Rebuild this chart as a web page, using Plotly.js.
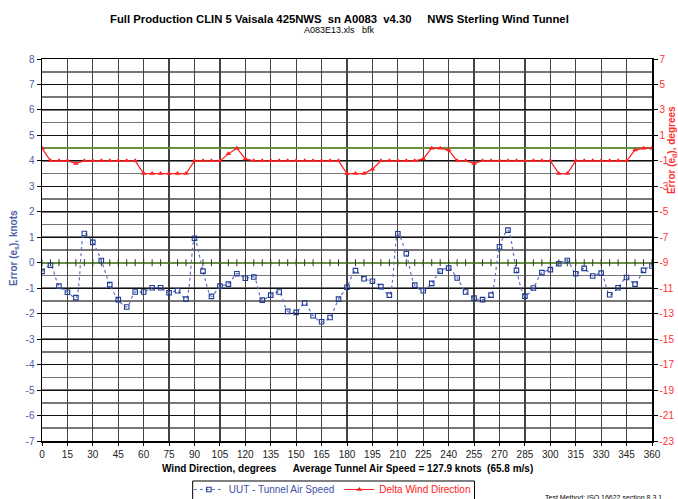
<!DOCTYPE html>
<html><head><meta charset="utf-8">
<script src="https://cdn.plot.ly/plotly-3.0.1.min.js"></script>
<style>html,body{margin:0;padding:0;background:#fff}#chart{width:678px;height:499px}</style>
</head><body><div id="chart"></div>
<script>
var angles = [0,5,10,15,20,25,30,35,40,45,50,55,60,65,70,75,80,85,90,95,100,105,110,115,120,125,130,135,140,145,150,155,160,165,170,175,180,185,190,195,200,205,210,215,220,225,230,235,240,245,250,255,260,265,270,275,280,285,290,295,300,305,310,315,320,325,330,335,340,345,350,355,360];
var uutSpeedError = [-0.34,-0.10,-0.92,-1.16,-1.37,1.15,0.80,0.09,-0.86,-1.45,-1.74,-1.15,-1.15,-0.98,-0.98,-1.18,-1.10,-1.43,0.96,-0.33,-1.32,-0.92,-0.84,-0.43,-0.61,-0.56,-1.47,-1.27,-1.15,-1.91,-1.95,-1.58,-2.08,-2.32,-2.15,-1.43,-0.96,-0.31,-0.63,-0.73,-0.94,-1.27,1.14,0.35,-0.88,-1.10,-0.81,-0.33,-0.21,-0.60,-1.15,-1.39,-1.45,-1.27,0.63,1.28,-0.30,-1.31,-0.99,-0.39,-0.27,-0.04,0.09,-0.43,-0.22,-0.52,-0.41,-1.26,-0.98,-0.58,-0.84,-0.30,-0.13];
var deltaDirection = [0,-1,-1,-1,-1.2,-1,-1,-1,-1,-1,-1,-1,-2,-2,-2,-2,-2,-2,-1,-1,-1,-1,-0.45,0,-0.85,-1,-1,-1,-1,-1,-1,-1,-1,-1,-1,-1,-2,-2,-2,-1.65,-1,-1,-1,-1,-1,-0.85,0,0,-0.15,-1,-1,-1.2,-1,-1,-1,-1,-1,-1,-1,-1,-1,-2,-2,-1,-1,-1,-1,-1,-1,-1,-0.15,0,0];
var zeroLine = [0,0,0,0,0,0,0,0,0,0,0,0,0,0,0,0,0,0,0,0,0,0,0,0,0,0,0,0,0,0,0,0,0,0,0,0,0,0,0,0,0,0,0,0,0,0,0,0,0,0,0,0,0,0,0,0,0,0,0,0,0,0,0,0,0,0,0,0,0,0,0,0,0];
var xTicks = [0,15,30,45,60,75,90,105,120,135,150,165,180,195,210,225,240,255,270,285,300,315,330,345,360];
var yLeftTicks = [-7,-6,-5,-4,-3,-2,-1,0,1,2,3,4,5,6,7,8];
var yRightTicks = [-23,-21,-19,-17,-15,-13,-11,-9,-7,-5,-3,-1,1,3,5,7];

var FONT = 'Liberation Sans, Arial, sans-serif';
var traces = [
  {x: angles, y: zeroLine, yaxis: 'y2', mode: 'lines', line: {color: '#669a2e', width: 1.5}, showlegend: false, hoverinfo: 'skip'},
  {x: angles, y: zeroLine, mode: 'lines+markers', line: {color: '#669a2e', width: 1.5},
   marker: {symbol: 'line-ns', size: 5, line: {color: '#333', width: 1}}, showlegend: false, hoverinfo: 'skip'},
  {x: angles, y: uutSpeedError, name: '<span style="color:#3f51a5">UUT - Tunnel Air Speed</span>', mode: 'lines+markers',
   line: {color: '#6272c4', width: 1.2, dash: 'dot', shape: 'spline', smoothing: 0.8},
   marker: {symbol: 'square-open', size: 4.5, color: '#1f3a93', line: {width: 1.1}}},
  {x: angles, y: deltaDirection, yaxis: 'y2', name: '<span style="color:#ff2020">Delta Wind Direction</span>', mode: 'lines+markers',
   line: {color: '#ff2020', width: 1.2}, marker: {symbol: 'triangle-up', size: 5, color: '#ff2020'}}
];

var layout = {
  width: 678, height: 499,
  margin: {l: 42, r: 26, t: 59, b: 58, autoexpand: false},
  paper_bgcolor: '#fff', plot_bgcolor: '#fff',
  font: {family: FONT, size: 10, color: '#000'},
  showlegend: true,
  legend: {orientation: 'h', x: 0.476, xanchor: 'center', y: -0.089, yanchor: 'top', tracegroupgap: 0,
           borderwidth: 0, bgcolor: 'rgba(0,0,0,0)', font: {size: 10, family: FONT}, itemwidth: 30},
  shapes: [
    {type: 'rect', xref: 'paper', yref: 'paper', x0: 0.247, x1: 0.709, y0: -0.1047, y1: -0.19,
     line: {color: '#000', width: 1}, fillcolor: 'rgba(0,0,0,0)', layer: 'below'}
  ],
  xaxis: {range: [0, 360], tickvals: xTicks, ticktext: xTicks.map(String), showgrid: true, gridcolor: '#444', gridwidth: 1.3,
          showline: true, linecolor: '#000', linewidth: 1.5, mirror: true, ticks: 'outside', ticklen: 3, tickcolor: '#000',
          tickfont: {size: 10, color: '#222'}, zeroline: false, automargin: false},
  yaxis: {range: [-7, 8], tickvals: yLeftTicks, ticktext: yLeftTicks.map(String), showgrid: true, gridcolor: '#111', gridwidth: 1,
          minor: {dtick: 0.5, showgrid: true, gridcolor: '#777', gridwidth: 1.6},
          showline: true, linecolor: '#000', linewidth: 1.5, ticks: 'outside', ticklen: 4, tickcolor: '#000',
          tickfont: {size: 10, color: '#4d5ca8'}, zeroline: false, automargin: false},
  yaxis2: {range: [-23, 7], overlaying: 'y', side: 'right', tickvals: yRightTicks, ticktext: yRightTicks.map(String),
           showgrid: false, showline: true, linecolor: '#000', linewidth: 1.5, ticks: 'outside', ticklen: 4, tickcolor: '#000',
           tickfont: {size: 10, color: '#ff3030'}, zeroline: false, automargin: false},
  annotations: [
    {text: '<b>Full Production CLIN 5 Vaisala 425NWS&nbsp; sn A0083&nbsp; v4.30&nbsp;&nbsp;&nbsp;&nbsp;&nbsp;NWS Sterling Wind Tunnel</b>',
     xref: 'paper', yref: 'paper', x: 0.4885, y: 1.105, xanchor: 'center', yanchor: 'middle', showarrow: false, font: {size: 11.3, color: '#000'}},
    {text: 'A083E13.xls&nbsp;&nbsp; bfk', xref: 'paper', yref: 'paper', x: 0.4885, y: 1.077, xanchor: 'center', yanchor: 'middle',
     showarrow: false, font: {size: 9, color: '#000'}},
    {text: '<b>Wind Direction, degrees&nbsp;&nbsp;&nbsp;&nbsp;&nbsp; Average Tunnel Air Speed = 127.9 knots&nbsp; (65.8 m/s)</b>',
     xref: 'paper', yref: 'paper', x: 0.5, y: -0.073, xanchor: 'center', yanchor: 'middle', showarrow: false, font: {size: 10, color: '#000'}},
    {text: '<b>Error (e<sub>s</sub>), knots</b>', textangle: -90, xref: 'paper', yref: 'paper', x: -0.046, y: 0.505,
     xanchor: 'center', yanchor: 'middle', showarrow: false, font: {size: 10, color: '#4d5ca8'}},
    {text: '<b>Error (e<sub>d</sub>), degrees</b>', textangle: -90, xref: 'paper', yref: 'paper', x: 1.033, y: 0.762,
     xanchor: 'center', yanchor: 'middle', showarrow: false, font: {size: 10, color: '#ff3030'}},
    {text: 'Test Method: ISO 16622 section 8.3.1', xref: 'paper', yref: 'paper', x: 0.921, y: -0.147,
     xanchor: 'center', yanchor: 'middle', showarrow: false, font: {size: 7, color: '#000'}}
  ]
};
Plotly.newPlot('chart', traces, layout, {staticPlot: true, displayModeBar: false});
</script></body></html>
